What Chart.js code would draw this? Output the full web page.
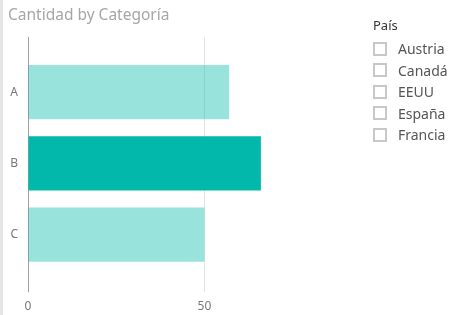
<!DOCTYPE html>
<html>
<head>
<meta charset="utf-8">
<script src="https://cdn.jsdelivr.net/npm/chart.js@4"></script>
<style>
    body { margin: 0; background: #fff; }
    #wrap { position: relative; width: 454px; height: 315px; overflow: hidden; font-family: "Noto Sans", sans-serif; }
    #edge { position: absolute; left: 0; top: 0; width: 3px; height: 315px; background: #e6e6e6; }
    #title { position: absolute; left: 8px; top: 3px; font-size: 15.5px; color: #a6a6a6; }
    #legend { position: absolute; left: 373px; top: 16px; }
    #legend .head { font-size: 13px; color: #333; margin-bottom: 4px; }
    #legend .item { height: 21.5px; display: flex; align-items: center; font-size: 14px; color: #555; }
    #legend .box { width: 10px; height: 10px; border: 2px solid #c8c8c8; margin-right: 11px; box-sizing: content-box; }
    canvas { position: absolute; left: 0; top: 0; }
</style>
</head>
<body>
<div id="wrap">
    <div id="edge"></div>
    <canvas id="chart" width="454" height="315"></canvas>
    <div id="title">Cantidad by Categoría</div>
    <div id="legend"><div class="head">País</div></div>
</div>
<script>
let categories = ["A", "B", "C"];
let cantidad = [57, 66, 50];
let paises = ["Austria", "Canadá", "EEUU", "España", "Francia"];
let xTicks = [0, 50];

let legend = document.getElementById("legend");
paises.forEach(p => {
    let row = document.createElement("div");
    row.className = "item";
    row.innerHTML = '<span class="box"></span>' + p;
    legend.appendChild(row);
});

let light = "rgba(1,184,170,0.4)";
let dark = "#01b8aa";

function keepTicks(scale) {
    scale.ticks = scale.ticks.filter(t => xTicks.includes(t.value));
}

function lineColor(ctx) {
    return ctx.tick && ctx.tick.value === 0 ? "#a0a0a0" : "#e3e3e3";
}

new Chart(document.getElementById("chart"), {
    type: "bar",
    data: {
        labels: categories,
        datasets: [{
            label: "Cantidad",
            data: cantidad,
            backgroundColor: categories.map(c => c === "B" ? dark : light),
            barPercentage: 0.763,
            categoryPercentage: 1
        }]
    },
    options: {
        indexAxis: "y",
        responsive: false,
        animation: false,
        layout: { padding: { top: 37, left: 0, right: 179, bottom: 0 } },
        plugins: { legend: { display: false }, tooltip: { enabled: false } },
        scales: {
            x: {
                min: 0, max: 70,
                afterBuildTicks: keepTicks,
                afterFit: s => { s.height = 44.8; },
                border: { display: false },
                grid: { color: lineColor, tickColor: lineColor, tickLength: 22 },
                ticks: { stepSize: 50, color: "#777", padding: 7, font: { family: "Noto Sans", size: 12 } }
            },
            x2: {
                position: "top",
                min: 0, max: 70,
                afterBuildTicks: keepTicks,
                afterFit: s => { s.height = 19.6; },
                border: { display: false },
                grid: { drawOnChartArea: false, tickColor: lineColor, tickLength: 19.6 },
                ticks: { stepSize: 50, display: false }
            },
            y: {
                afterFit: s => { s.width = 28; },
                border: { display: false },
                grid: { display: false, drawTicks: false },
                ticks: { color: "#777", padding: 10, font: { family: "Noto Sans", size: 12 } }
            }
        }
    }
});
</script>
</body>
</html>
